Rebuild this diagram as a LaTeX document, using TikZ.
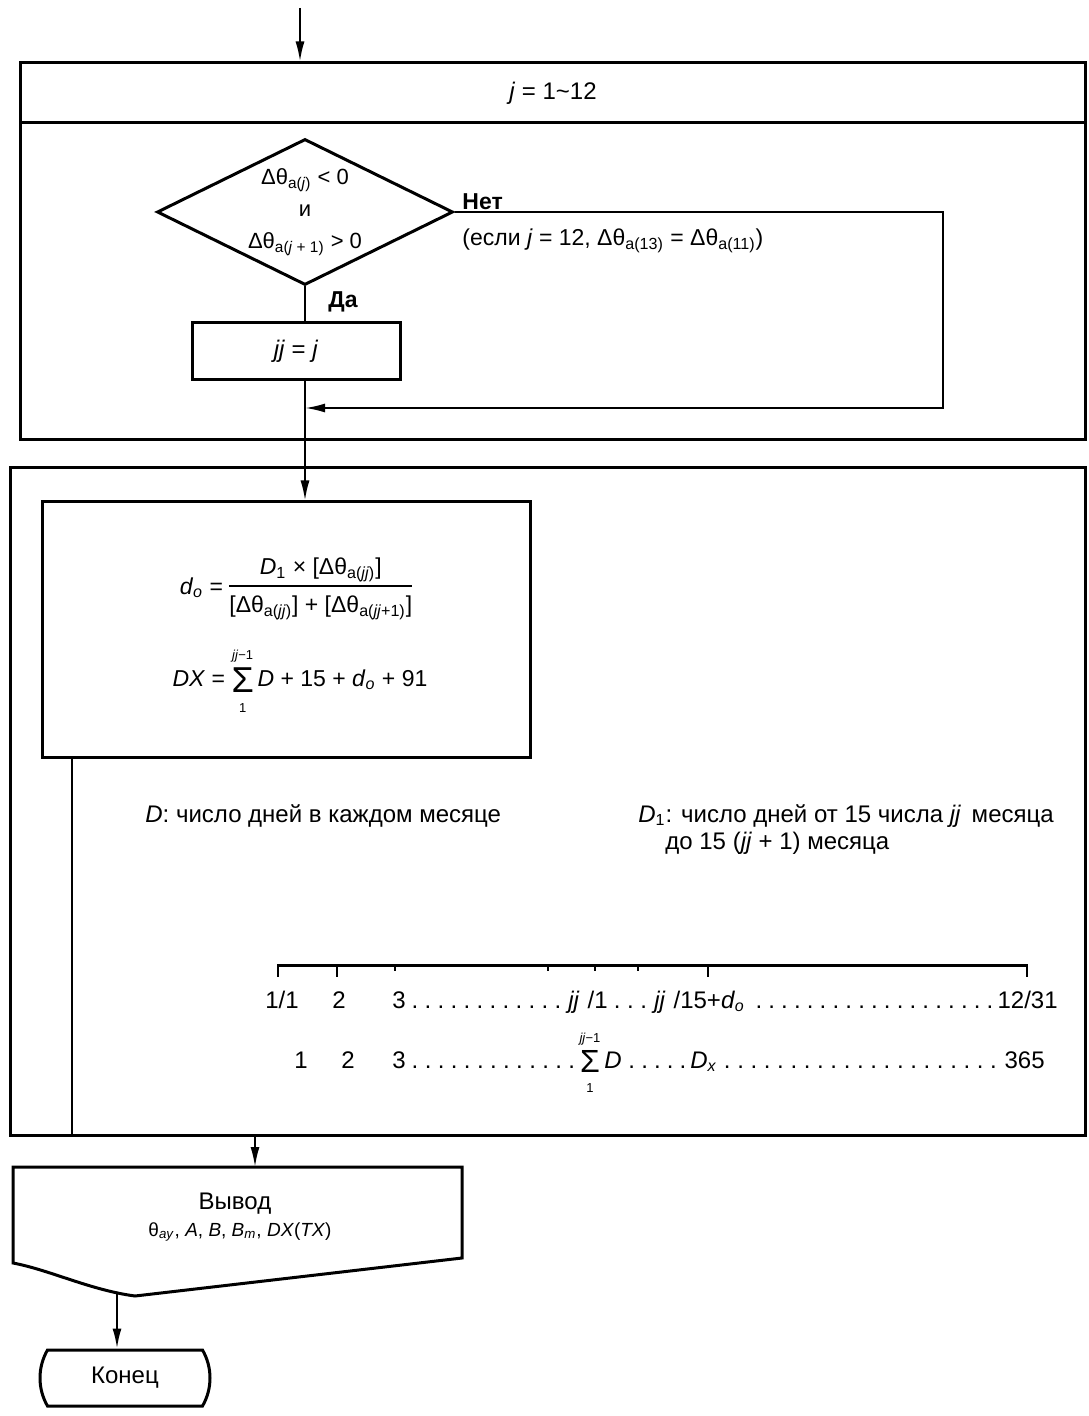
\documentclass[tikz,border=0pt]{standalone}
\usepackage{fontspec}
\setmainfont{Liberation Sans}
\usetikzlibrary{shapes.geometric,shapes.misc,fit,arrows.meta}
\newcommand{\sbs}[1]{\textsubscript{#1}}
\newcommand{\vi}[1]{\textit{#1}}
\newcommand{\lead}[1]{\hbox to #1{\xleaders\hbox to 6.4pt{\hss.\hss}\hfill}}
\newcommand{\sumjj}[1]{\begin{tabular}{@{}c@{}}{\fontsize{6.5}{6.5}\selectfont \vi{jj}−1}\\[0pt]{\fontsize{#1}{#1}\selectfont Σ}\\[-4pt]{\fontsize{6.5}{6.5}\selectfont 1}\end{tabular}}
\begin{document}
\begin{tikzpicture}[x=0.5pt,y=-0.5pt,
  every node/.style={font=\fontsize{12}{14}\selectfont, inner sep=0pt},
  boxline/.style={draw, line width=1.5pt},
  conn/.style={line width=1pt},
  arr/.style={conn, -{Latex[length=10pt,width=4.5pt]}},
  tick/.style={line width=1.2pt}]
\fill[white] (0,0) rectangle (1088,1416);
\useasboundingbox (0,0) rectangle (1088,1416);

% loop header box
\coordinate (start) at (300,8);
\node[boxline, fit={(20,63)(1085,440)}] (loop1) {};
\coordinate (hdrl) at (20,123);
\draw[line width=1.5pt] (hdrl) -- (hdrl -| loop1.east);
\node (hdr) at (553,93) {\vi{j} = 1\textasciitilde 12};
\draw[arr] (start) -- (start |- loop1.north);

% decision
\node[diamond, draw, line width=1.5pt, minimum width=148pt, minimum height=73pt] (dec) at (305,212) {};
\node[align=center, font=\fontsize{11}{16}\selectfont] (dectext) at (dec.center) {Δθ\sbs{a(\vi{j})} < 0\\ и\\ Δθ\sbs{a(\vi{j} + 1)} > 0};
\node[anchor=base west, font=\bfseries\fontsize{11.5}{14}\selectfont] (no) at (462,210) {Нет};
\node[anchor=base west, font=\fontsize{11.5}{14}\selectfont] (cond) at (462,246) {(если \vi{j} = 12, Δθ\sbs{a(13)} = Δθ\sbs{a(11)})};
\node[anchor=base west, font=\bfseries\fontsize{11.5}{14}\selectfont] (yes) at (328,308) {Да};

% jj = j box
\node[boxline, fit={(192,323)(400,380)}] (jjbox) {};
\node (jjtext) at (jjbox.center) {\vi{jj} = \vi{j}};
\draw[conn] (dec.south) -- (dec.south |- jjbox.north);

% return path
\coordinate (rc) at (943,408);
\coordinate (merge) at (dec.south |- rc);
\draw[arr] (dec.east) -| (rc) -- (merge);

% second box
\node[boxline, fit={(10,468)(1085,1135)}] (box2) {};
\node[boxline, fit={(42,502)(530,757)}] (fbox) {};
\draw[arr] (jjbox.south -| dec.south) -- (dec.south |- fbox.north);

% formulas
\node[font=\fontsize{11.5}{14}\selectfont] (fd) at (296,588) {\vi{d}\sbs{\vi{o}} = {\setlength{\arrayrulewidth}{0.8pt}\begin{tabular}{@{}c@{}}\vi{D}\sbs{1} × [Δθ\sbs{a(\vi{jj})}]\\[1pt]\hline\rule{0pt}{13pt}[Δθ\sbs{a(\vi{jj})}] + [Δθ\sbs{a(\vi{jj}+1)}]\end{tabular}}};
\node[font=\fontsize{11.5}{14}\selectfont] (fdx) at (300,680) {\vi{DX} = \sumjj{18}\,\vi{D} + 15 + \vi{d}\sbs{\vi{o}} + 91};

\coordinate (leftline) at (72,757);
\draw[conn] (leftline) -- (leftline |- box2.south);

% notes
\node[anchor=base west] (noteD) at (145,822) {\vi{D}: число дней в каждом месяце};
\node[anchor=base west] (noteD1) at (638,822) {\vi{D}\sbs{1}: число дней от 15 числа \vi{jj}\, месяца};
\node[anchor=base west] (noteD1b) at (665,849) {до 15 (\vi{jj} + 1) месяца};

% time scale
\draw[line width=1.5pt] (278,965) -- (1027,965);
\foreach \x in {278,337,708,1027} \draw[tick] (\x,964) -- (\x,977);
\foreach \x in {395,548,595,638} \draw[tick] (\x,964) -- (\x,971);

\node[anchor=base] (t11) at (282,1008) {1/1};
\node[anchor=base] (t12) at (339,1008) {2};
\node[anchor=base west] (t13) at (392,1008) {3};
\node[anchor=base west] (t14) at (408,1008) {\lead{78pt}};
\node[anchor=base west] (t15) at (568,1008) {\vi{jj}\,\,/1};
\node[anchor=base west] (t16) at (610,1008) {\lead{20pt}};
\node[anchor=base west] (t17) at (654,1008) {\vi{jj}\,\,/15+\vi{d}\sbs{\vi{o}}};
\node[anchor=base west] (t18) at (752,1008) {\lead{122pt}};
\node[anchor=base east] (t19) at (1058,1008) {12/31};

\node[anchor=base] (t21) at (301,1068) {1};
\node[anchor=base] (t22) at (348,1068) {2};
\node[anchor=base west] (t23) at (392,1068) {3};
\node[anchor=base west] (t24) at (408,1068) {\lead{85pt}};
\node (t25) at (590,1062) {\sumjj{16}};
\node[anchor=base west] (t26) at (604,1068) {\vi{D}};
\node[anchor=base west] (t27) at (625,1068) {\lead{32pt}};
\node[anchor=base west] (t28) at (690,1068) {\vi{D}\sbs{\vi{x}}};
\node[anchor=base west] (t29) at (720,1068) {\lead{140pt}};
\node[anchor=base east] (t2e) at (1045,1068) {365};

% output
\coordinate (outtop) at (255,1167);
\coordinate (outbot) at (117,1293);
\draw[boxline] (13,1167) -- (462,1167) -- (462,1258) -- (135,1296) .. controls (90,1290) and (50,1270) .. (13,1263) -- cycle;
\draw[arr] (outtop |- box2.south) -- (outtop);
\node (outtitle) at (235,1204) {Вывод};
\node[font=\fontsize{9.5}{11}\selectfont] (outvars) at (240,1232) {θ\sbs{\vi{ay}}, \vi{A}, \vi{B}, \vi{B}\sbs{\vi{m}}, \vi{DX}(\vi{TX})};

% end
\node[rounded rectangle, rounded rectangle arc length=60, draw, line width=1.5pt, minimum width=85pt, minimum height=28pt] (endn) at (125,1378) {Конец};
\draw[arr] (outbot) -- (outbot |- endn.north);
\end{tikzpicture}
\end{document}
